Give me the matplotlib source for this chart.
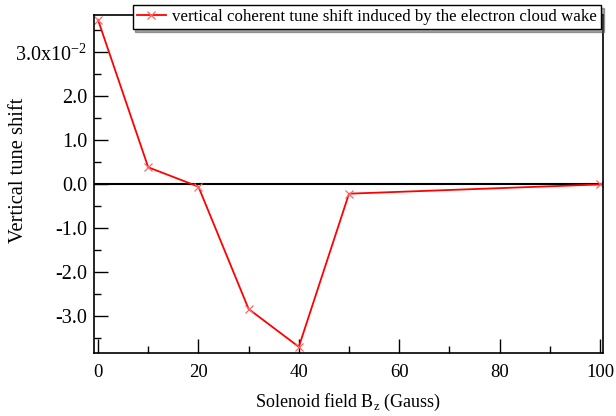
import matplotlib
matplotlib.use("Agg")
import matplotlib.pyplot as plt
from matplotlib.ticker import MultipleLocator, FixedLocator

plt.rcParams['font.family'] = ['Liberation Serif', 'DejaVu Serif']
plt.rcParams['mathtext.fontset'] = 'custom'
plt.rcParams['mathtext.rm'] = 'Liberation Serif'

# solenoid field (Gauss) and vertical tune shift (units of 1e-2)
bz = [0, 10, 20, 30, 40, 50, 100]
tune_shift = [3.73, 0.38, -0.06, -2.84, -3.70, -0.22, -0.01]

ytick_vals = [3.0, 2.0, 1.0, 0.0, -1.0, -2.0, -3.0]
ytick_text = [r'3.0x10$^{-2}$', '2.0', '1.0', '0.0', '-1.0', '-2.0', '-3.0']

fig = plt.figure(figsize=(6.16, 4.16), dpi=100)
ax = fig.add_axes([94/616, 1 - 353/416, (603 - 94)/616, (353 - 15)/416])

ax.axhline(0, color='black', lw=1.5, zorder=1)
ax.plot(bz, tune_shift, color='red', lw=1.3, marker='x', ms=6, mew=0.9,
        mec='#ff6666', label='vertical coherent tune shift induced by the electron cloud wake',
        zorder=2)

ax.set_xlim(-0.8, 100.6)
ax.set_ylim(-3.84, 3.84)
ax.xaxis.set_major_locator(MultipleLocator(20))
ax.xaxis.set_minor_locator(MultipleLocator(10))
ax.yaxis.set_major_locator(FixedLocator(ytick_vals))
ax.set_yticklabels(ytick_text)
ax.yaxis.set_minor_locator(MultipleLocator(0.5))
ax.tick_params(which='both', direction='in', top=False, right=False)
ax.tick_params(axis='y', labelsize=14.5, pad=5)
ax.tick_params(axis='x', labelsize=13.5, pad=8)
ax.tick_params(which='major', length=10, width=1)
ax.tick_params(which='minor', length=5, width=1)
for s in ax.spines.values():
    s.set_linewidth(1.2)

ax.set_xlabel(r'Solenoid field B$_{\mathrm{z}}$ (Gauss)', fontsize=13, labelpad=8)
ax.set_ylabel('Vertical tune shift', fontsize=14.8)
ax.yaxis.set_label_coords(-0.13, 0.54)

leg = ax.legend(loc='upper right', bbox_to_anchor=(0.997, 1.03), fontsize=12.2,
                frameon=True, fancybox=False, shadow=True, borderpad=0.25,
                handlelength=1.7, handletextpad=0.4, borderaxespad=0)
leg.get_frame().set_edgecolor('black')
leg.get_frame().set_linewidth(1.0)

fig.savefig('out.png', dpi=100)
